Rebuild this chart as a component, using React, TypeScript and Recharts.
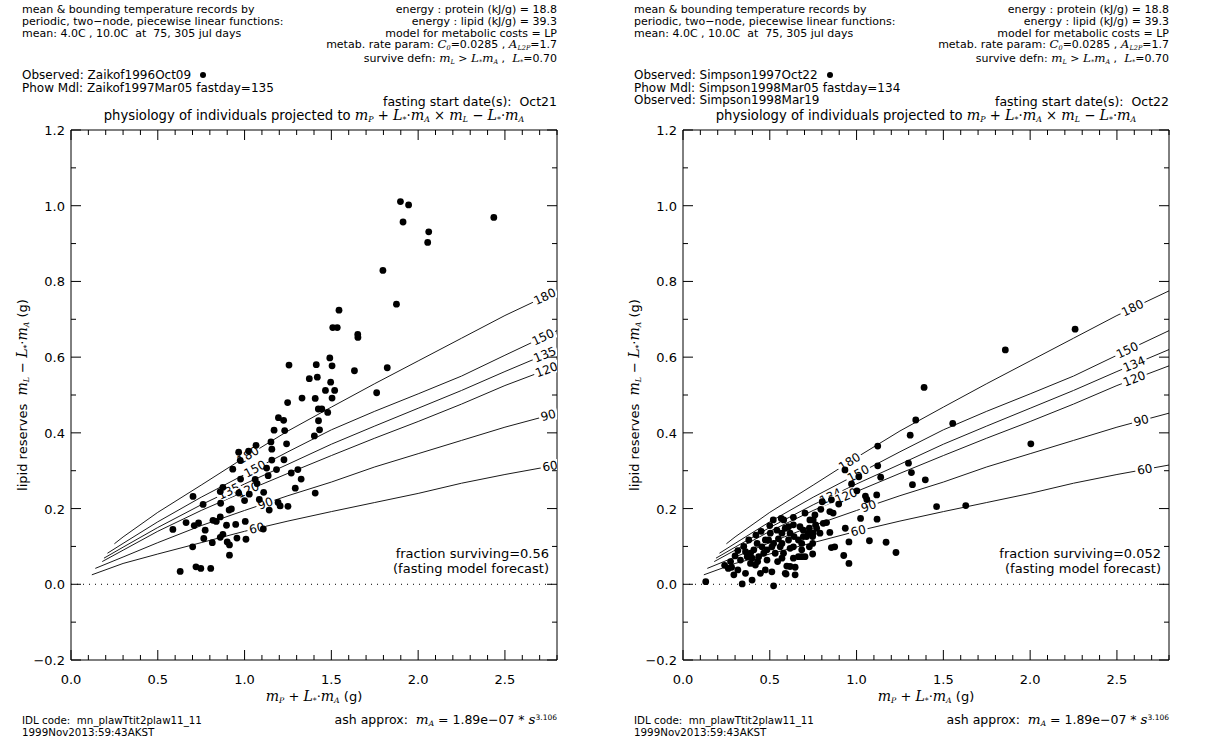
import React from 'react';
import { ComposedChart, Line, Scatter, XAxis, YAxis, ReferenceLine } from 'recharts';

// ---------------- data ----------------
const xTicks = [0, 0.1, 0.2, 0.3, 0.4, 0.5, 0.6, 0.7, 0.8, 0.9, 1.0, 1.1, 1.2, 1.3, 1.4, 1.5, 1.6, 1.7, 1.8, 1.9, 2.0, 2.1, 2.2, 2.3, 2.4, 2.5, 2.6, 2.7, 2.8];
const xMajor = [0, 0.5, 1.0, 1.5, 2.0, 2.5];
const yTicks = [-0.2, -0.1, 0, 0.1, 0.2, 0.3, 0.4, 0.5, 0.6, 0.7, 0.8, 0.9, 1.0, 1.1, 1.2];
const yMajor = [-0.2, 0, 0.2, 0.4, 0.6, 0.8, 1.0, 1.2];

const c180 = [[0.25, 0.107], [0.30, 0.125], [0.50, 0.190], [0.75, 0.262], [1.00, 0.335], [1.25, 0.405], [1.50, 0.468], [1.75, 0.530], [2.00, 0.590], [2.25, 0.650], [2.50, 0.710], [2.80, 0.775]];
const c150 = [[0.21, 0.082], [0.30, 0.108], [0.50, 0.165], [0.75, 0.230], [1.00, 0.290], [1.25, 0.350], [1.50, 0.408], [1.75, 0.457], [2.00, 0.503], [2.25, 0.550], [2.50, 0.605], [2.80, 0.670]];
const c135 = [[0.19, 0.069], [0.30, 0.098], [0.50, 0.150], [0.75, 0.210], [1.00, 0.265], [1.25, 0.317], [1.50, 0.370], [1.75, 0.418], [2.00, 0.465], [2.25, 0.512], [2.50, 0.562], [2.80, 0.620]];
const c120 = [[0.18, 0.060], [0.30, 0.090], [0.50, 0.140], [0.75, 0.195], [1.00, 0.245], [1.25, 0.293], [1.50, 0.340], [1.75, 0.386], [2.00, 0.430], [2.25, 0.476], [2.50, 0.525], [2.80, 0.577]];
const c90 = [[0.14, 0.042], [0.30, 0.072], [0.50, 0.110], [0.75, 0.155], [1.00, 0.195], [1.25, 0.234], [1.50, 0.270], [1.75, 0.310], [2.00, 0.345], [2.25, 0.380], [2.50, 0.415], [2.80, 0.452]];
const c60 = [[0.12, 0.025], [0.30, 0.055], [0.50, 0.080], [0.75, 0.110], [1.00, 0.140], [1.25, 0.167], [1.50, 0.192], [1.75, 0.216], [2.00, 0.240], [2.25, 0.267], [2.50, 0.290], [2.80, 0.315]];

// contour level, curve, x positions of the inline labels
const leftContours = [
  { level: '180', pts: c180, labelX: [1.02, 2.73] },
  { level: '150', pts: c150, labelX: [1.06, 2.72] },
  { level: '135', pts: c135, labelX: [0.91, 2.73] },
  { level: '120', pts: c120, labelX: [1.02, 2.74] },
  { level: '90', pts: c90, labelX: [1.12, 2.75] },
  { level: '60', pts: c60, labelX: [1.07, 2.76] },
];
const rightContours = [
  { level: '180', pts: c180, labelX: [0.96, 2.59] },
  { level: '150', pts: c150, labelX: [1.01, 2.56] },
  { level: '134', pts: c135, labelX: [0.85, 2.60] },
  { level: '120', pts: c120, labelX: [0.94, 2.60] },
  { level: '90', pts: c90, labelX: [1.07, 2.64] },
  { level: '60', pts: c60, labelX: [1.01, 2.66] },
];

const leftObs = [
  [1.898, 1.011], [1.945, 1.002], [1.913, 0.957], [2.061, 0.931], [2.055, 0.903], [2.436, 0.969], [1.797, 0.829], [1.875, 0.740],
  [1.544, 0.724], [1.508, 0.678], [1.534, 0.678], [1.652, 0.660], [1.653, 0.652], [1.822, 0.572], [1.633, 0.564], [1.491, 0.598],
  [1.504, 0.577], [1.256, 0.579], [1.413, 0.580], [1.373, 0.543], [1.419, 0.547], [1.496, 0.534], [1.466, 0.512], [1.519, 0.512],
  [1.331, 0.492], [1.407, 0.491], [1.504, 0.492], [1.248, 0.480], [1.761, 0.506], [1.425, 0.463], [1.445, 0.463], [1.479, 0.454],
  [1.195, 0.440], [1.225, 0.433], [1.426, 0.432], [1.432, 0.408], [1.402, 0.392], [1.170, 0.407], [1.231, 0.406], [1.242, 0.371],
  [1.066, 0.367], [1.152, 0.376], [1.157, 0.357], [0.966, 0.349], [1.023, 0.352], [0.975, 0.327], [1.157, 0.328], [1.227, 0.329],
  [0.932, 0.304], [1.127, 0.307], [1.136, 0.287], [1.184, 0.303], [1.307, 0.303], [1.269, 0.294], [0.977, 0.278], [1.061, 0.277],
  [1.326, 0.278], [0.703, 0.232], [0.875, 0.256], [0.860, 0.245], [0.966, 0.241], [1.027, 0.238], [1.072, 0.266], [1.110, 0.243],
  [1.292, 0.254], [1.407, 0.241], [0.761, 0.211], [0.862, 0.214], [1.000, 0.221], [1.085, 0.224], [1.142, 0.196], [1.193, 0.216],
  [1.205, 0.207], [1.250, 0.206], [0.911, 0.196], [0.924, 0.199], [0.587, 0.145], [0.663, 0.163], [0.710, 0.155], [0.735, 0.162],
  [0.773, 0.143], [0.818, 0.169], [0.837, 0.166], [0.860, 0.178], [0.896, 0.156], [0.949, 0.158], [1.004, 0.166], [0.701, 0.099],
  [0.765, 0.121], [0.814, 0.110], [0.860, 0.124], [0.875, 0.132], [0.900, 0.112], [0.913, 0.104], [0.956, 0.122], [1.008, 0.119],
  [1.108, 0.146], [0.913, 0.077], [0.629, 0.034], [0.720, 0.046], [0.748, 0.042], [0.805, 0.042],
];

const rightObs = [
  [2.259, 0.674], [1.857, 0.619], [1.389, 0.520], [1.341, 0.434], [1.554, 0.425], [1.309, 0.394], [2.004, 0.371], [1.122, 0.365],
  [1.122, 0.313], [0.933, 0.302], [1.299, 0.320], [1.316, 0.295], [1.139, 0.283], [1.013, 0.284], [0.971, 0.265], [1.002, 0.247],
  [1.322, 0.263], [1.396, 0.276], [1.051, 0.233], [1.059, 0.224], [1.116, 0.236], [0.897, 0.212], [0.855, 0.223], [0.802, 0.218],
  [0.794, 0.198], [0.846, 0.192], [0.865, 0.188], [0.760, 0.183], [1.023, 0.174], [1.118, 0.172], [1.461, 0.205], [1.629, 0.208],
  [0.935, 0.148], [0.846, 0.137], [0.956, 0.112], [1.074, 0.115], [1.170, 0.111], [1.227, 0.084], [0.926, 0.076], [0.956, 0.055],
  [0.855, 0.097], [0.874, 0.099], [0.808, 0.161], [0.827, 0.163], [0.750, 0.170], [0.747, 0.126], [0.693, 0.126], [0.764, 0.157],
  [0.728, 0.148], [0.750, 0.135], [0.728, 0.099], [0.747, 0.080], [0.684, 0.073], [0.665, 0.073], [0.646, 0.045], [0.646, 0.025],
  [0.594, 0.027], [0.598, 0.048], [0.640, 0.126], [0.684, 0.108], [0.636, 0.157], [0.674, 0.152], [0.722, 0.135], [0.703, 0.188],
  [0.636, 0.177], [0.566, 0.174], [0.589, 0.148], [0.570, 0.108],
  [0.131, 0.007], [0.341, 0.001], [0.522, -0.004], [0.398, 0.011], [0.261, 0.042], [0.293, 0.025], [0.316, 0.038], [0.316, 0.089],
  [0.360, 0.086], [0.389, 0.082], [0.331, 0.064], [0.360, 0.029], [0.274, 0.060], [0.389, 0.055], [0.417, 0.051], [0.446, 0.029],
  [0.474, 0.038], [0.484, 0.064], [0.512, 0.033], [0.570, 0.069], [0.589, 0.029], [0.617, 0.047], [0.545, 0.060], [0.455, 0.099],
  [0.427, 0.108], [0.493, 0.117], [0.512, 0.099], [0.531, 0.082], [0.560, 0.099], [0.570, 0.135], [0.579, 0.082], [0.617, 0.095],
  [0.617, 0.135], [0.608, 0.152], [0.665, 0.117], [0.693, 0.143], [0.712, 0.126], [0.731, 0.170], [0.770, 0.148], [0.789, 0.135],
  [0.747, 0.108], [0.541, 0.143], [0.503, 0.135], [0.474, 0.117], [0.465, 0.082], [0.408, 0.091], [0.379, 0.117], [0.370, 0.073],
  [0.398, 0.069], [0.436, 0.073], [0.484, 0.091], [0.522, 0.108], [0.608, 0.117], [0.636, 0.099], [0.684, 0.091], [0.703, 0.073],
  [0.636, 0.069], [0.450, 0.140], [0.500, 0.155], [0.420, 0.130], [0.550, 0.120], [0.350, 0.100], [0.300, 0.075], [0.280, 0.045],
  [0.430, 0.060], [0.580, 0.170], [0.240, 0.050], [0.520, 0.170],
];

// ---------------- layout ----------------
const PW = 612;
const H = 746;
const PL = 71; // plot left
const PR = 55; // space right of plot
const PT = 130; // plot top
const PB = 86; // space below plot
const PLOT_W = PW - PL - PR;
const PLOT_H = H - PT - PB;
const X_MAX = 2.8;
const Y_MIN = -0.2;
const Y_MAX = 1.2;
const pxX = PLOT_W / X_MAX;
const pxY = PLOT_H / (Y_MAX - Y_MIN);

const FONT = '"DejaVu Sans", "Liberation Sans", sans-serif';
const MATH = '"DejaVu Serif", "Liberation Serif", serif';

const isIn = (v: number, arr: number[]) => arr.some((a) => Math.abs(a - v) < 1e-6);
const fmt = (v: number) => v.toFixed(1).replace('-', '\u2212');

function interp(pts: number[][], x: number) {
  for (let i = 0; i < pts.length - 1; i++) {
    const [x0, y0] = pts[i];
    const [x1, y1] = pts[i + 1];
    if (x >= x0 && x <= x1) {
      const t = (x - x0) / (x1 - x0);
      return { y: y0 + t * (y1 - y0), slope: (y1 - y0) / (x1 - x0) };
    }
  }
  return { y: pts[pts.length - 1][1], slope: 0 };
}

const BottomTick = (p: any) => {
  const v = p.payload.value;
  const major = isIn(v, xMajor);
  return (
    <g>
      <line x1={p.x} y1={p.y} x2={p.x} y2={p.y - (major ? 10 : 5)} stroke="#000" strokeWidth={1} />
      {major && (
        <text x={p.x} y={p.y + 24} textAnchor="middle" fontFamily={FONT} fontSize={13} fill="#000">
          {fmt(v)}
        </text>
      )}
    </g>
  );
};
const TopTick = (p: any) => {
  const major = isIn(p.payload.value, xMajor);
  return <line x1={p.x} y1={p.y} x2={p.x} y2={p.y + (major ? 10 : 5)} stroke="#000" strokeWidth={1} />;
};
const LeftTick = (p: any) => {
  const v = p.payload.value;
  const major = isIn(v, yMajor);
  return (
    <g>
      <line x1={p.x} y1={p.y} x2={p.x + (major ? 10 : 5)} y2={p.y} stroke="#000" strokeWidth={1} />
      {major && (
        <text x={p.x - 6} y={p.y + 5} textAnchor="end" fontFamily={FONT} fontSize={13} fill="#000">
          {fmt(v)}
        </text>
      )}
    </g>
  );
};
const RightTick = (p: any) => {
  const major = isIn(p.payload.value, yMajor);
  return <line x1={p.x} y1={p.y} x2={p.x - (major ? 10 : 5)} y2={p.y} stroke="#000" strokeWidth={1} />;
};

const Dot = (p: any) => <circle cx={p.cx} cy={p.cy} r={3.4} fill="#000" />;

const ContourLabel = (p: any) => {
  const { cx, cy, payload } = p;
  const ang = (-Math.atan(payload.slope * pxY / pxX) * 180) / Math.PI;
  const w = payload.level.length * 7.5 + 4;
  return (
    <g transform={`translate(${cx},${cy}) rotate(${ang})`}>
      <rect x={-w / 2} y={-6} width={w} height={12} fill="#fff" />
      <text x={0} y={4} textAnchor="middle" fontFamily={FONT} fontSize={12} fill="#000">
        {payload.level}
      </text>
    </g>
  );
};

const Mi = ({ c, s }: { c: string; s?: string }) => (
  <span style={{ fontFamily: MATH, fontStyle: 'italic', fontSize: '1.08em' }}>
    {c}
    {s && <span style={{ fontSize: '0.55em', position: 'relative', top: '0.3em' }}>{s}</span>}
  </span>
);
const Lstar = () => <Mi c="L" s="*" />;

type PanelProps = {
  left: number;
  obs: number[][];
  contours: { level: string; pts: number[][]; labelX: number[] }[];
  observed: string[];
  fastDate: string;
  fraction: string;
};

function Panel({ left, obs, contours, observed, fastDate, fraction }: PanelProps) {
  const obsData = obs.map(([x, y]) => ({ x, y }));
  const labelData = contours.flatMap((c) =>
    c.labelX.map((lx) => {
      const r = interp(c.pts, lx);
      return { x: lx, y: r.y, slope: r.slope, level: c.level };
    })
  );
  const abs = (s: React.CSSProperties): React.CSSProperties => ({ position: 'absolute', whiteSpace: 'nowrap', ...s });
  return (
    <div style={{ position: 'absolute', left, top: 0, width: PW, height: H, fontFamily: FONT, color: '#000' }}>
      <ComposedChart width={PW} height={H} margin={{ top: 0, right: 0, bottom: 0, left: 0 }}>
        <XAxis xAxisId="b" type="number" dataKey="x" domain={[0, X_MAX]} ticks={xTicks} interval={0} allowDataOverflow
          orientation="bottom" height={PB} tickSize={0} tickMargin={0} tickLine={false} tick={<BottomTick />}
          axisLine={{ stroke: '#000' }} />
        <XAxis xAxisId="t" type="number" dataKey="x" domain={[0, X_MAX]} ticks={xTicks} interval={0} allowDataOverflow
          orientation="top" height={PT} tickSize={0} tickMargin={0} tickLine={false} tick={<TopTick />}
          axisLine={{ stroke: '#000' }} />
        <YAxis yAxisId="l" type="number" dataKey="y" domain={[Y_MIN, Y_MAX]} ticks={yTicks} interval={0} allowDataOverflow
          orientation="left" width={PL} tickSize={0} tickMargin={0} tickLine={false} tick={<LeftTick />}
          axisLine={{ stroke: '#000' }} />
        <YAxis yAxisId="r" type="number" dataKey="y" domain={[Y_MIN, Y_MAX]} ticks={yTicks} interval={0} allowDataOverflow
          orientation="right" width={PR} tickSize={0} tickMargin={0} tickLine={false} tick={<RightTick />}
          axisLine={{ stroke: '#000' }} />
        <ReferenceLine xAxisId="b" yAxisId="l" y={0} stroke="#000" strokeDasharray="1 5" />
        {contours.map((c) => (
          <Line key={c.level} xAxisId="b" yAxisId="l" data={c.pts.map(([x, y]) => ({ x, y }))} dataKey="y"
            type="linear" stroke="#1a1a1a" strokeWidth={1} dot={false} isAnimationActive={false} />
        ))}
        <Scatter xAxisId="b" yAxisId="l" data={labelData} dataKey="y" shape={<ContourLabel />} isAnimationActive={false} />
        <Scatter xAxisId="b" yAxisId="l" data={obsData} dataKey="y" shape={<Dot />} isAnimationActive={false} />
      </ComposedChart>

      {/* header left */}
      <div style={abs({ left: 22, top: 4, fontSize: 11, lineHeight: '11.8px' })}>
        <div>mean &amp; bounding temperature records by</div>
        <div>periodic, two{'\u2212'}node, piecewise linear functions:</div>
        <div>mean: 4.0C , 10.0C&nbsp; at&nbsp; 75, 305 jul days</div>
      </div>
      {/* header right */}
      <div style={abs({ right: PR, top: 4, fontSize: 11, lineHeight: '11.8px', textAlign: 'right' })}>
        <div>energy : protein (kJ/g) = 18.8</div>
        <div>energy : lipid (kJ/g) = 39.3</div>
        <div>model for metabolic costs = LP</div>
        <div>metab. rate param: <Mi c="C" s="0" />=0.0285 , <Mi c="A" s="L2P" />=1.7</div>
        <div>survive defn: <Mi c="m" s="L" /> &gt; <Lstar /><Mi c="m" s="A" /> , &nbsp;<Lstar />=0.70</div>
      </div>
      {/* observed */}
      <div style={abs({ left: 22, top: 69, fontSize: 12, lineHeight: '12.6px' })}>
        {observed.map((t, i) => (
          <div key={i} style={{ height: 12.6 }}>
            {t}
            {i === 0 && <span style={{ display: 'inline-block', width: 6, height: 6, borderRadius: 3, background: '#000', marginLeft: 9, verticalAlign: 1 }} />}
          </div>
        ))}
      </div>
      <div style={abs({ right: PR, top: 95, fontSize: 12.5, lineHeight: '13px' })}>
        fasting start date(s):&nbsp; {fastDate}
      </div>
      <div style={abs({ left: PL - 20, width: PLOT_W + 40, top: 108, fontSize: 13.2, lineHeight: '15px', textAlign: 'center' })}>
        physiology of individuals projected to <Mi c="m" s="P" /> + <Lstar />{'\u00b7'}<Mi c="m" s="A" /> {'\u00d7'} <Mi c="m" s="L" /> {'\u2212'} <Lstar />{'\u00b7'}<Mi c="m" s="A" />
      </div>
      {/* y axis title */}
      <div style={abs({ left: 22, top: 395, fontSize: 13, transform: 'translate(-50%, -50%) rotate(-90deg)' })}>
        lipid reserves&nbsp; <Mi c="m" s="L" /> {'\u2212'} <Lstar />{'\u00b7'}<Mi c="m" s="A" /> (g)
      </div>
      {/* x axis title */}
      <div style={abs({ left: PL, width: PLOT_W, top: 688, fontSize: 13, textAlign: 'center' })}>
        <Mi c="m" s="P" /> + <Lstar />{'\u00b7'}<Mi c="m" s="A" /> (g)
      </div>
      {/* fraction surviving */}
      <div style={abs({ right: PR + 8, top: 546, fontSize: 13, lineHeight: '15px', textAlign: 'right' })}>
        <div>fraction surviving={fraction}</div>
        <div>(fasting model forecast)</div>
      </div>
      {/* footer */}
      <div style={abs({ left: 22, top: 715, fontSize: 10.3, lineHeight: '11.5px' })}>
        <div>IDL code:&nbsp; mn_plawTtit2plaw11_11</div>
        <div>1999Nov2013:59:43AKST</div>
      </div>
      <div style={abs({ right: PR, top: 712, fontSize: 12.5, lineHeight: '14px' })}>
        ash approx:&nbsp; <Mi c="m" s="A" /> = 1.89e{'\u2212'}07 * <Mi c="s" /><span style={{ fontSize: '0.6em', position: 'relative', top: '-0.6em' }}>3.106</span>
      </div>
    </div>
  );
}

export default function App() {
  return (
    <div style={{ position: 'absolute', left: 0, top: 0, width: 1225, height: 746, background: '#fff', overflow: 'hidden' }}>
      <Panel left={0} obs={leftObs} contours={leftContours}
        observed={['Observed: Zaikof1996Oct09', 'Phow Mdl: Zaikof1997Mar05 fastday=135']}
        fastDate="Oct21" fraction="0.56" />
      <Panel left={612} obs={rightObs} contours={rightContours}
        observed={['Observed: Simpson1997Oct22', 'Phow Mdl: Simpson1998Mar05 fastday=134', 'Observed: Simpson1998Mar19']}
        fastDate="Oct22" fraction="0.052" />
    </div>
  );
}
